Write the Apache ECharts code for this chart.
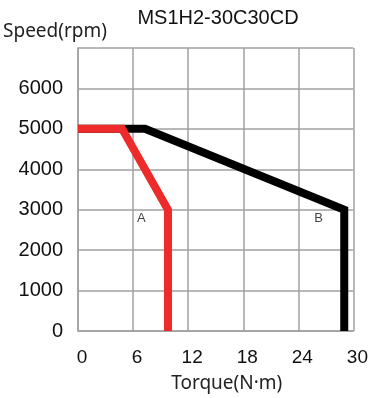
<!DOCTYPE html>
<html>
<head>
<meta charset="utf-8">
<script src="https://cdn.jsdelivr.net/npm/echarts@6/dist/echarts.min.js"></script>
<style>
html,body{margin:0;padding:0;background:#fff;}
#main{width:371px;height:398px;}
</style>
</head>
<body>
<div id="main"></div>
<script>
// torque (N·m) / speed (rpm) points of the two curves
var curveA = [[0, 5000], [4.8, 5000], [9.8, 3000], [9.8, 0]];
var curveB = [[0, 5000], [7.3, 5000], [29, 3000], [29, 0]];
var curveLabels = [
    {name: 'A', value: [6.9, 2780]},
    {name: 'B', value: [26.2, 2780]}
];
var xTicks = [0, 6, 12, 18, 24, 30];
var yTicks = [0, 1000, 2000, 3000, 4000, 5000, 6000];

var myChart = echarts.init(document.getElementById('main'));

var gridColor = '#a0a0a0';

option = {
    animation: false,
    title: {
        text: 'MS1H2-30C30CD',
        left: 213,
        textAlign: 'center',
        top: 3,
        textStyle: {
            fontFamily: 'Liberation Sans',
            fontWeight: 'normal',
            fontSize: 20,
            color: '#111'
        }
    },
    grid: {
        left: 78,
        right: 17,
        top: 48,
        bottom: 67
    },
    xAxis: {
        type: 'value',
        min: 0,
        max: 30,
        interval: 6,
        name: 'Torque(N·m)',
        nameLocation: 'middle',
        nameGap: 43,
        nameTextStyle: {
            fontFamily: 'Noto Sans',
            fontSize: 19,
            color: '#222',
            padding: [0, 0, 0, 22]
        },
        axisLine: {lineStyle: {color: gridColor, width: 1.5}},
        axisTick: {show: false},
        axisLabel: {
            margin: 17,
            fontFamily: 'Liberation Sans',
            fontSize: 19,
            color: '#111',
            padding: [0, 0, 0, 8],
            formatter: function (v) { return xTicks.indexOf(v) >= 0 ? v : ''; }
        },
        splitLine: {show: true, lineStyle: {color: gridColor, width: 1.5}}
    },
    yAxis: {
        type: 'value',
        min: 0,
        max: 7000,
        interval: 1000,
        name: 'Speed(rpm)',
        nameLocation: 'end',
        nameGap: 7,
        nameTextStyle: {
            fontFamily: 'Noto Sans',
            fontSize: 19,
            color: '#222',
            padding: [0, 46, 0, 0]
        },
        axisLine: {show: true, lineStyle: {color: gridColor, width: 1.5}},
        axisTick: {show: false},
        axisLabel: {
            margin: 15,
            fontFamily: 'Liberation Sans',
            fontSize: 20,
            color: '#111',
            padding: [0, 0, 3, 0],
            formatter: function (v) { return yTicks.indexOf(v) >= 0 ? v : ''; }
        },
        splitLine: {show: true, lineStyle: {color: gridColor, width: 1.5}}
    },
    series: [
        {
            name: 'B',
            type: 'line',
            data: curveB,
            symbol: 'none',
            clip: false,
            lineStyle: {color: '#000', width: 8, join: 'miter', cap: 'butt'},
            z: 3
        },
        {
            name: 'A',
            type: 'line',
            data: curveA,
            symbol: 'none',
            clip: false,
            lineStyle: {color: '#ee2b2b', width: 8, join: 'miter', cap: 'butt'},
            z: 4
        },
        {
            type: 'scatter',
            data: curveLabels,
            symbolSize: 0,
            label: {
                show: true,
                position: 'inside',
                formatter: '{b}',
                fontFamily: 'Liberation Sans',
                fontSize: 13,
                color: '#111'
            },
            z: 5
        }
    ]
};
myChart.setOption(option);
</script>
</body>
</html>
